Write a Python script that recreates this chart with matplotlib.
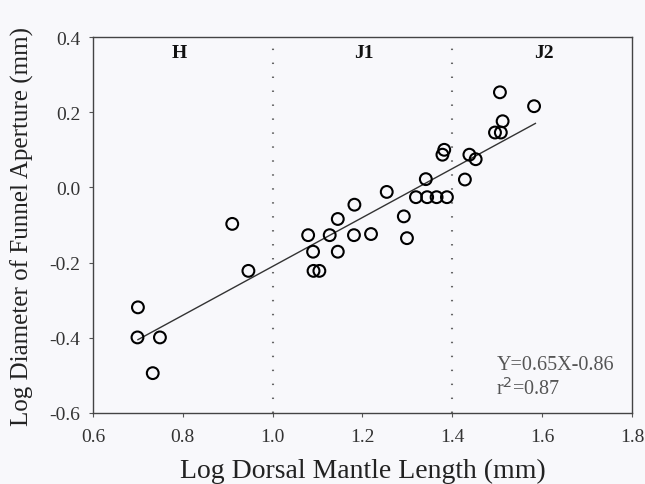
import matplotlib.pyplot as plt
import numpy as np

# log dorsal mantle length vs log funnel aperture diameter
log_dml = [0.700, 0.699, 0.749, 0.733, 0.910, 0.946, 1.079, 1.090, 1.091, 1.104,
           1.127, 1.145, 1.145, 1.181, 1.182, 1.219, 1.254, 1.292, 1.299, 1.319,
           1.341, 1.344, 1.365, 1.378, 1.382, 1.388, 1.428, 1.438, 1.452, 1.495,
           1.508, 1.506, 1.512, 1.582]
log_fad = [-0.319, -0.399, -0.399, -0.494, -0.097, -0.222, -0.127, -0.171, -0.222, -0.222,
           -0.127, -0.171, -0.084, -0.127, -0.046, -0.124, -0.012, -0.077, -0.135, -0.026,
           0.022, -0.026, -0.026, 0.087, 0.100, -0.026, 0.021, 0.087, 0.075, 0.146,
           0.146, 0.253, 0.176, 0.216]

SLOPE = 0.65
INTERCEPT = -0.86
fit_x = np.array([0.70, 1.585])

stage_bounds = [1.0, 1.4]
stage_names = ["H", "J1", "J2"]
stage_label_x = [0.791, 1.204, 1.604]

xticks = [0.6, 0.8, 1.0, 1.2, 1.4, 1.6, 1.8]
yticks = [-0.6, -0.4, -0.2, 0.0, 0.2, 0.4]

BG = "#f8f8fb"
TXT = "#333333"

plt.rcParams["font.family"] = ["Liberation Serif", "DejaVu Serif"]

fig = plt.figure(figsize=(6.45, 4.85), dpi=100, facecolor=BG)
ax = fig.add_axes([0.1442, 0.1464, 0.8356, 0.7752], facecolor=BG)

for xb in stage_bounds:
    ax.axvline(xb, color="#666666", linestyle=(0, (0.7, 6)), linewidth=1.5, zorder=1)

ax.plot(fit_x, SLOPE * fit_x + INTERCEPT, color="#333333", linewidth=1.0, zorder=2)
ax.scatter(log_dml, log_fad, s=72, facecolors="none", edgecolors="black",
           linewidths=1.5, zorder=3)

for name, xl in zip(stage_names, stage_label_x):
    ax.text(xl, 0.36, name, ha="center", va="center", fontsize=14,
            fontweight="bold", color="#111111")

ax.text(1.498, -0.472, f"Y={SLOPE}X{INTERCEPT}", ha="left", va="center",
        fontsize=14.5, color="#555555")
ax.text(1.498, -0.534, r"r$^2$=0.87", ha="left", va="center",
        fontsize=14.5, color="#555555")

ax.set_xlim(0.6, 1.8)
ax.set_ylim(-0.6, 0.4)
ax.set_xticks(xticks)
ax.set_yticks(yticks)
ax.set_xticklabels([f"{v:.1f}" for v in xticks])
ax.set_yticklabels([f"{v:.1f}" for v in yticks])
ax.tick_params(direction="out", length=3, width=0.8, colors="#555555",
               labelcolor=TXT, labelsize=14, pad=6)
ax.tick_params(axis="x", pad=8)
for sp in ax.spines.values():
    sp.set_color("#444444")
    sp.set_linewidth(1.0)

ax.set_xlabel("Log Dorsal Mantle Length (mm)", fontsize=20, color="#222222", labelpad=9)
ax.set_ylabel("Log Diameter of Funnel Aperture (mm)", fontsize=18, color="#222222",
              labelpad=11)

fig.savefig("out.png", dpi=100, facecolor=BG)
